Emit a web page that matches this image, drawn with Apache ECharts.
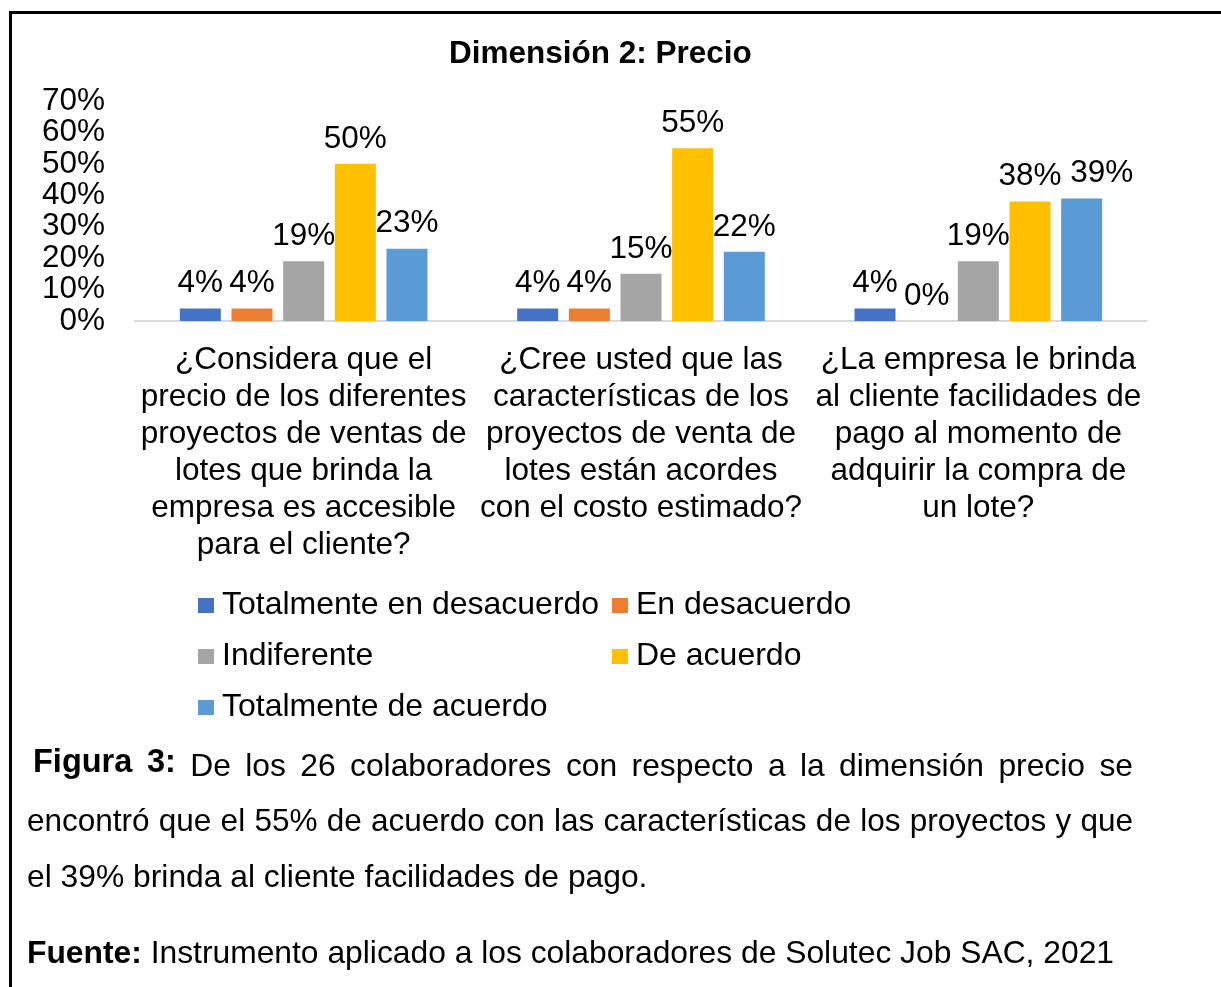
<!DOCTYPE html>
<html>
<head>
    <meta charset="utf-8">
    <title>Dimensión 2: Precio</title>
    <script src="https://cdn.jsdelivr.net/npm/echarts@6/dist/echarts.min.js"></script>
    <style>
        html, body { margin: 0; padding: 0; background: #fff; overflow: hidden; }
        #page { position: relative; width: 1221px; height: 987px; overflow: hidden; font-family: 'Liberation Sans', Arial, sans-serif; }
        #frame { position: absolute; left: 9px; top: 11px; width: 1300px; height: 1000px; border-left: 3px solid #000; border-top: 3px solid #000; box-sizing: border-box; }
        #main { position: absolute; left: 0; top: 0; width: 1221px; height: 987px; }
        .cap { position: absolute; left: 27px; width: 1106px; font-size: 31.8px; line-height: 56px; color: #000; white-space: nowrap; }
        .just { text-align: justify; text-align-last: justify; }
        b.fig { position: relative; top: -4px; margin-left: 6px; font-size: 32.5px; }
    </style>
</head>
<body>
<div id="page">
    <div id="frame"></div>
    <div id="main"></div>
    <div class="cap just" style="top:737px;"><b class="fig">Figura 3:</b> De los 26 colaboradores con respecto a la dimensión precio se</div>
    <div class="cap just" style="top:792px; font-size:31.5px;">encontró que el 55% de acuerdo con las características de los proyectos y que</div>
    <div class="cap" style="top:848px;">el 39% brinda al cliente facilidades de pago.</div>
    <div class="cap" style="top:924px;"><b>Fuente:</b> Instrumento aplicado a los colaboradores de Solutec Job SAC, 2021</div>
</div>
<script type="text/javascript">
// preguntas (categorías)
var preguntas = [
  '¿Considera que el\nprecio de los diferentes\nproyectos de ventas de\nlotes que brinda la\nempresa es accesible\npara el cliente?',
  '¿Cree usted que las\ncaracterísticas de los\nproyectos de venta de\nlotes están acordes\ncon el costo estimado?',
  '¿La empresa le brinda\nal cliente facilidades de\npago al momento de\nadquirir la compra de\nun lote?'
]
var respuestas = ['Totalmente en desacuerdo', 'En desacuerdo', 'Indiferente', 'De acuerdo', 'Totalmente de acuerdo']
// porcentajes por respuesta
var totalmenteDesacuerdo = [4, 4, 4]
var enDesacuerdo = [4, 4, 0]
var indiferente = [19, 15, 19]
var deAcuerdo = [50, 55, 38]
var totalmenteAcuerdo = [23, 22, 39]
var yTicks = [0, 10, 20, 30, 40, 50, 60, 70]

var colores = ['#4472C4', '#ED7D31', '#A5A5A5', '#FFC000', '#5B9BD5']
var valores = [totalmenteDesacuerdo, enDesacuerdo, indiferente, deAcuerdo, totalmenteAcuerdo]
var fuente = "'Liberation Sans', Arial, sans-serif"

var myChart = echarts.init(document.getElementById('main'))

var series = []
for (var i = 0; i < respuestas.length; i++) {
  var datos = valores[i].map(function (v, j) {
    // etiqueta 39% desplazada a la derecha, como en el original
    if (i === 4 && j === 2) return { value: v, label: { offset: [20, 0] } }
    return v
  })
  series.push({
    name: respuestas[i],
    type: 'bar',
    yAxisIndex: 0,
    barWidth: 41,
    barGap: '26%',
    data: datos,
    itemStyle: { color: colores[i] },
    label: {
      show: true,
      position: 'top',
      distance: 9,
      color: '#000',
      fontSize: 31.5,
      fontFamily: fuente,
      formatter: '{c}%'
    },
    animation: false
  })
}

// las etiquetas del eje Y se reparten en dos ejes superpuestos (pares / impares)
// para que ECharts no oculte las que casi se tocan
function ejeY(par) {
  return {
    type: 'value',
    position: 'left',
    min: yTicks[0],
    max: yTicks[yTicks.length - 1],
    interval: 10,
    axisLine: { show: false },
    axisTick: { show: false },
    splitLine: { show: false },
    axisLabel: {
      margin: 30,
      showMinLabel: par,
      showMaxLabel: !par,
      hideOverlap: false,
      color: '#000',
      fontSize: 31.5,
      fontFamily: fuente,
      formatter: function (v) {
        return ((v / 10) % 2 === 0) === par ? v + '%' : ''
      }
    }
  }
}

var option = {
  backgroundColor: 'transparent',
  title: {
    text: 'Dimensión 2: Precio',
    left: 449,
    top: 38,
    padding: 0,
    textStyle: { fontSize: 31.5, fontWeight: 'bold', color: '#000', fontFamily: fuente }
  },
  legend: {
    data: respuestas,
    left: 198,
    top: 580,
    width: 850,
    padding: 0,
    itemGap: 0,
    itemWidth: 16,
    itemHeight: 15,
    icon: 'rect',
    textStyle: {
      fontSize: 32,
      color: '#000',
      fontFamily: fuente,
      width: 390,
      lineHeight: 51,
      padding: [0, 0, 0, 3]
    }
  },
  grid: { left: 135, right: 74, top: 101, height: 220 },
  xAxis: {
    type: 'category',
    data: preguntas,
    axisTick: { show: false },
    axisLine: { lineStyle: { color: '#D9D9D9', width: 2 } },
    axisLabel: {
      interval: 0,
      margin: 21,
      color: '#000',
      fontSize: 31.5,
      lineHeight: 37,
      fontFamily: fuente
    }
  },
  yAxis: [ejeY(true), ejeY(false)],
  series: series
}
myChart.setOption(option)
</script>
</body>
</html>
